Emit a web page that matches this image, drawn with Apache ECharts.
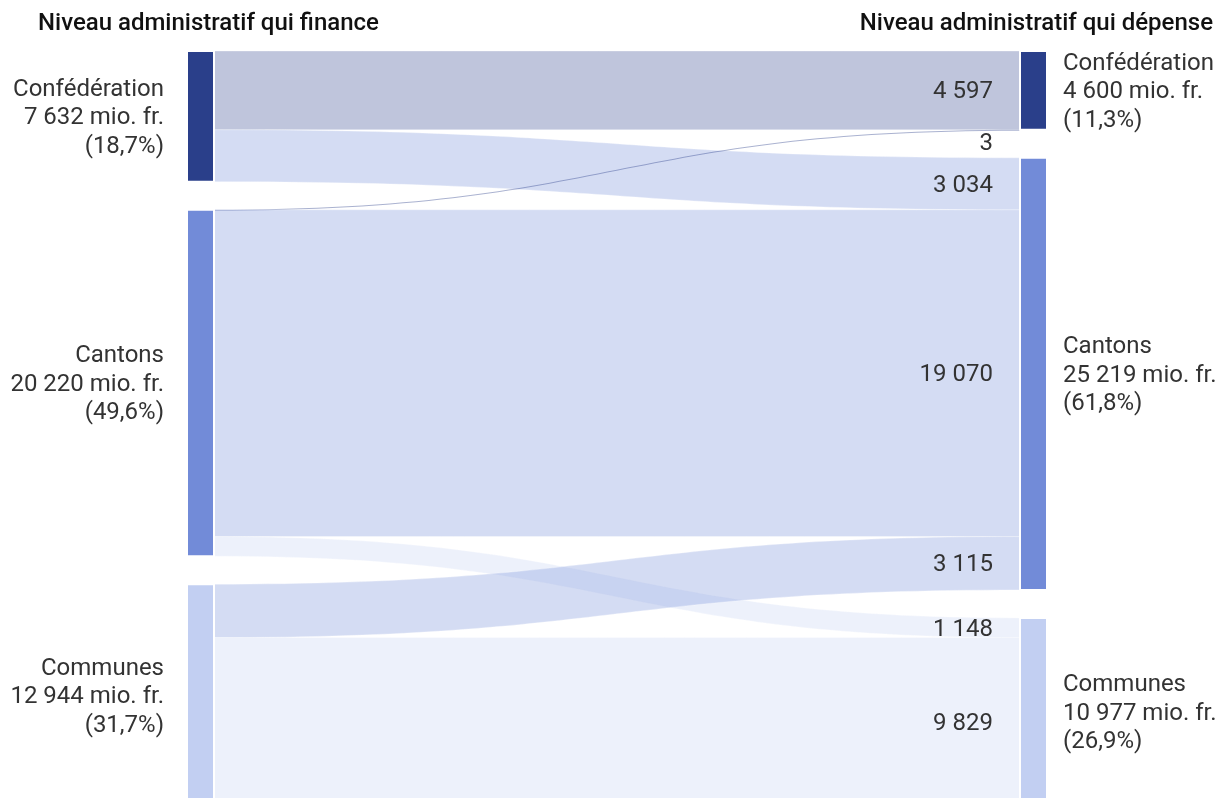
<!DOCTYPE html>
<html>
<head>
<meta charset="utf-8">
<script src="https://cdn.jsdelivr.net/npm/echarts@6/dist/echarts.min.js"></script>
<style>
  html, body { margin: 0; padding: 0; background: #fff; }
  #chart { width: 1215px; height: 798px; }
</style>
</head>
<body>
<div id="chart"></div>
<script>
// niveaux administratifs (même ordre des deux côtés)
const levels = ['Confédération', 'Cantons', 'Communes']
const levelColors = ['#2a3f8a', '#728bd8', '#c2cff2']

// côté financement (gauche)
const financeTotals = [7632, 20220, 12944]
const financeShares = ['18,7', '49,6', '31,7']

// côté dépense (droite)
const spendTotals = [4600, 25219, 10977]
const spendShares = ['11,3', '61,8', '26,9']

// flux : index source -> index cible, en mio. fr.
const flowSources = [0, 0, 1, 1, 1, 2, 2]
const flowTargets = [0, 1, 0, 1, 2, 1, 2]
const flowValues = [4597, 3034, 3, 19070, 1148, 3115, 9829]

const fontFamily = 'Roboto, "Noto Sans", sans-serif'
const textColor = '#333'

const fmt = (v) => String(v).replace(/\B(?=(\d{3})+(?!\d))/g, ' ')

const nodes = []
levels.forEach((name, i) => {
    nodes.push({
        name: 'F_' + name,
        itemStyle: { color: levelColors[i] },
        label: {
            position: 'left',
            distance: 22,
            align: 'right',
            formatter: `${name}\n${fmt(financeTotals[i])} mio. fr.\n(${financeShares[i]}%)`,
        },
    })
})
levels.forEach((name, i) => {
    nodes.push({
        name: 'D_' + name,
        itemStyle: { color: levelColors[i] },
        label: {
            position: 'right',
            distance: 15,
            align: 'left',
            formatter: `${name}\n${fmt(spendTotals[i])} mio. fr.\n(${spendShares[i]}%)`,
        },
    })
})

const links = flowValues.map((v, i) => ({
    source: 'F_' + levels[flowSources[i]],
    target: 'D_' + levels[flowTargets[i]],
    value: v,
    // the tiny flow would vanish under the white border, keep it as a visible thread
    lineStyle: v < 10 ? { opacity: 0.4, borderWidth: 0 } : undefined,
}))

const chart = echarts.init(document.getElementById('chart'))

const titleStyle = { fontFamily, fontSize: 24, fontWeight: 500, color: '#111' }

chart.setOption({
    animation: false,
    title: [
        { text: 'Niveau administratif qui finance', left: 38, top: 12, padding: 0, textStyle: titleStyle },
        { text: 'Niveau administratif qui dépense', right: 2, top: 12, padding: 0, textStyle: titleStyle },
    ],
    series: [
        {
            type: 'sankey',
            left: 187,
            right: 168,
            top: 51,
            bottom: -8, // the original is cut off at the bottom edge
            nodeWidth: 27,
            nodeGap: 28,
            layoutIterations: 0,
            draggable: false,
            emphasis: { disabled: true },
            data: nodes,
            links: links,
            itemStyle: { borderColor: '#fff', borderWidth: 2 },
            lineStyle: { color: 'target', opacity: 0.3, curveness: 0.5, borderColor: '#fff', borderWidth: 1 },
            label: {
                show: true,
                fontFamily,
                fontSize: 24,
                lineHeight: 28.5,
                color: textColor,
                offset: [0, 2],
            },
        },
    ],
})

// valeurs des flux, placées à l'arrivée de chaque lien (positions lues dans la mise en page du sankey)
const seriesModel = chart.getModel().getSeriesByIndex(0)
const box = seriesModel.layoutInfo
const graph = seriesModel.getGraph()
const edgeTexts = []
graph.edges.forEach((edge) => {
    const el = edge.getLayout()
    const n2 = edge.node2.getLayout()
    const v = flowValues[edge.dataIndex]
    const small = el.dy < 10
    edgeTexts.push({
        type: 'text',
        z: 10,
        x: box.x + n2.x - 27,
        y: box.y + n2.y + el.ty + (small ? el.dy + 2 : el.dy / 2 + 2),
        style: {
            text: fmt(v),
            align: 'right',
            verticalAlign: small ? 'top' : 'middle',
            fontFamily,
            fontSize: 24,
            fill: textColor,
        },
    })
})
chart.setOption({ graphic: edgeTexts })
</script>
</body>
</html>
